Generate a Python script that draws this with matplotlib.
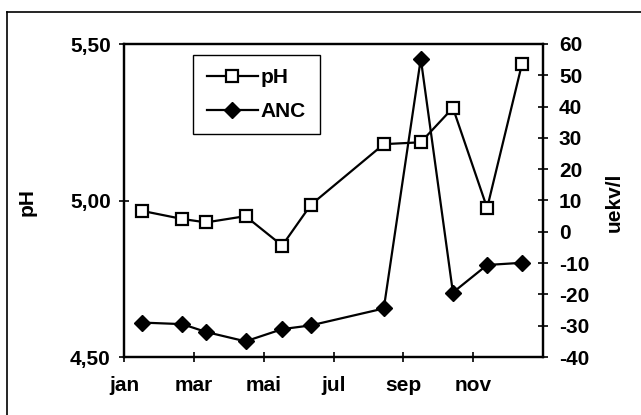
# pH and ANC over the year, two y axes

import matplotlib
matplotlib.use("Agg")
import matplotlib.pyplot as plt
from matplotlib.lines import Line2D

plt.rcParams['font.family'] = ['Liberation Sans', 'DejaVu Sans']
plt.rcParams['font.weight'] = 'bold'
plt.rcParams['axes.unicode_minus'] = False

# sampling dates as month position (0 = start of jan)
months = [0.51, 1.67, 2.35, 3.48, 4.53, 5.35, 7.44, 8.50, 9.42, 10.40, 11.40]
ph = [4.967, 4.941, 4.930, 4.950, 4.856, 4.986, 5.180, 5.186, 5.296, 4.976, 5.437]
anc = [-29.0, -29.5, -32.0, -35.0, -31.1, -29.9, -24.5, 55.3, -19.4, -10.6, -9.9]

month_ticks = [0, 2, 4, 6, 8, 10]
month_labels = ['jan', 'mar', 'mai', 'jul', 'sep', 'nov']
ph_ticks = [4.5, 5.0, 5.5]
ph_labels = ['4,50', '5,00', '5,50']
anc_ticks = [-40, -30, -20, -10, 0, 10, 20, 30, 40, 50, 60]

fig = plt.figure(figsize=(6.41, 4.15), dpi=100)
ax = fig.add_axes([124/641, 58/415, 419/641, 313/415])
ax2 = ax.twinx()

l1, = ax.plot(months, ph, color='black', lw=1.6, marker='s', ms=8.5,
              mfc='white', mec='black', mew=1.6, label='pH')
l2, = ax2.plot(months, anc, color='black', lw=1.6, marker='D', ms=8,
               mfc='black', mec='black', label='ANC')

ax.set_xlim(0, 12)
ax.set_ylim(4.5, 5.5)
ax2.set_ylim(-40, 60)
ax.set_xticks(month_ticks)
ax.set_xticklabels(month_labels)
ax.set_yticks(ph_ticks)
ax.set_yticklabels(ph_labels)
ax2.set_yticks(anc_ticks)

for a in (ax, ax2):
    for s in a.spines.values():
        s.set_linewidth(1.6)
    a.tick_params(direction='inout', length=7, width=1.2, labelsize=15)
ax.tick_params(axis='x', pad=10)
ax.tick_params(axis='y', pad=6)
ax2.tick_params(axis='y', pad=8)

ax.set_ylabel('pH', fontsize=15, fontweight='bold')
ax.yaxis.set_label_coords(-0.208, 0.495)
ax2.set_ylabel('uekv/l', fontsize=15, fontweight='bold', rotation=90)
ax2.yaxis.set_label_coords(1.148, 0.495)

leg = ax2.legend([l1, l2], ['pH', 'ANC'], loc='upper left',
                 bbox_to_anchor=(0.1647, 0.965), fontsize=15, frameon=True,
                 fancybox=False, edgecolor='black', framealpha=1,
                 handlelength=2.45, handletextpad=0.15, labelspacing=0.69,
                 borderpad=0.65, borderaxespad=0)
leg.get_frame().set_linewidth(1.0)

# outer frame (only left and top edges visible in the scan)
fig.add_artist(Line2D([7/641, 7/641], [0, 1 - 12/415], color='black', lw=1.2))
fig.add_artist(Line2D([7/641, 1], [1 - 12/415, 1 - 12/415], color='black', lw=1.2))

fig.savefig('out.png', dpi=100)
